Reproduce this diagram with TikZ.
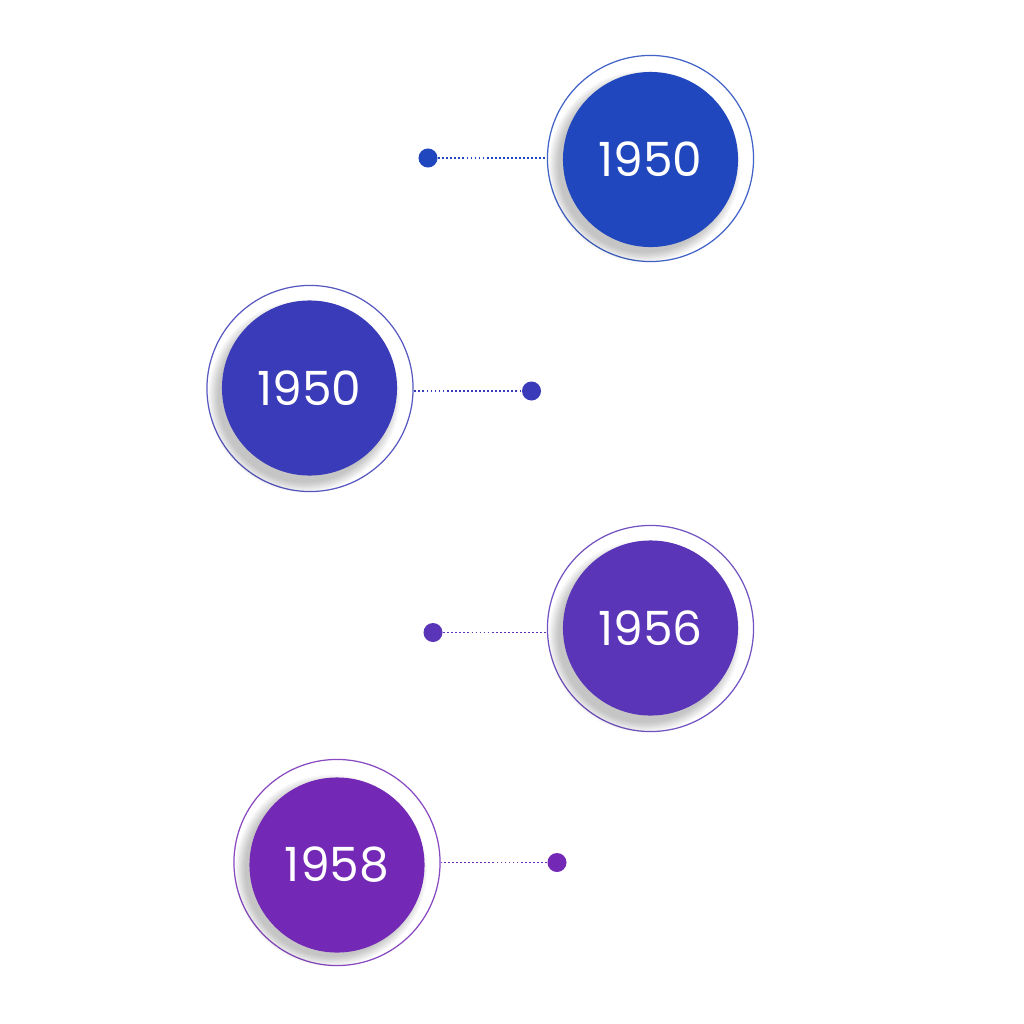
\documentclass[tikz,border=0pt]{standalone}
\usepackage{fontspec}
\setmainfont{Poppins}
\usetikzlibrary{positioning,calc}
\definecolor{yearblue}{HTML}{2047BD}
\definecolor{yearindigo}{HTML}{3A3BB8}
\definecolor{yearviolet}{HTML}{5A35B7}
\definecolor{yearpurple}{HTML}{7429B6}
\tikzset{
  ring/.style={circle,draw=#1!85,line width=.35pt,minimum size=2.06cm,inner sep=0pt,fill=white},
  disc/.style={circle,fill=#1,minimum size=1.75cm,inner sep=0pt,text=white,font=\fontsize{13.4}{16}\selectfont},
  pin/.style={circle,fill=#1,minimum size=.19cm,inner sep=0pt},
  dotline/.style={draw=#1,line width=.55pt,dash pattern=on .5pt off .65pt},
}
% soft shadow under a disc, from the ring centre
\newcommand{\discshadow}[1]{%
  \foreach \r in {0,...,9}{\fill[black,opacity=.022] ($(#1)+(-6,8)$) circle[radius=.86cm+\r*.011cm];}}

\begin{document}
\begin{tikzpicture}[x=.01cm,y=-.01cm]
  \useasboundingbox[fill=white] (0,0) rectangle (1024,1024);

  % 1950 (top)
  \node[ring=yearblue] (ringA) at (650.5,158.5) {};
  \discshadow{ringA}
  \node[disc=yearblue] (discA) at (650.5,159.5) {1950};
  \node[pin=yearblue] (pinA) at (428,158) {};
  \draw[dotline=yearblue] (pinA) -- (pinA -| ringA.west);

  % 1950 (second)
  \node[ring=yearindigo] (ringB) at (310,388.5) {};
  \discshadow{ringB}
  \node[disc=yearindigo] (discB) at (309.5,388) {1950};
  \node[pin=yearindigo] (pinB) at (531.5,391) {};
  \draw[dotline=yearindigo] (pinB) -- (pinB -| ringB.east);

  % 1956
  \node[ring=yearviolet] (ringC) at (650.5,628.5) {};
  \discshadow{ringC}
  \node[disc=yearviolet] (discC) at (650.5,628) {1956};
  \node[pin=yearviolet] (pinC) at (433,632.5) {};
  \draw[dotline=yearviolet] (pinC) -- (pinC -| ringC.west);

  % 1958
  \node[ring=yearpurple] (ringD) at (337,862.5) {};
  \discshadow{ringD}
  \node[disc=yearpurple] (discD) at (337,865) {1958};
  \node[pin=yearpurple] (pinD) at (557,862.5) {};
  \draw[dotline=yearpurple] (pinD) -- (pinD -| ringD.east);
\end{tikzpicture}
\end{document}
